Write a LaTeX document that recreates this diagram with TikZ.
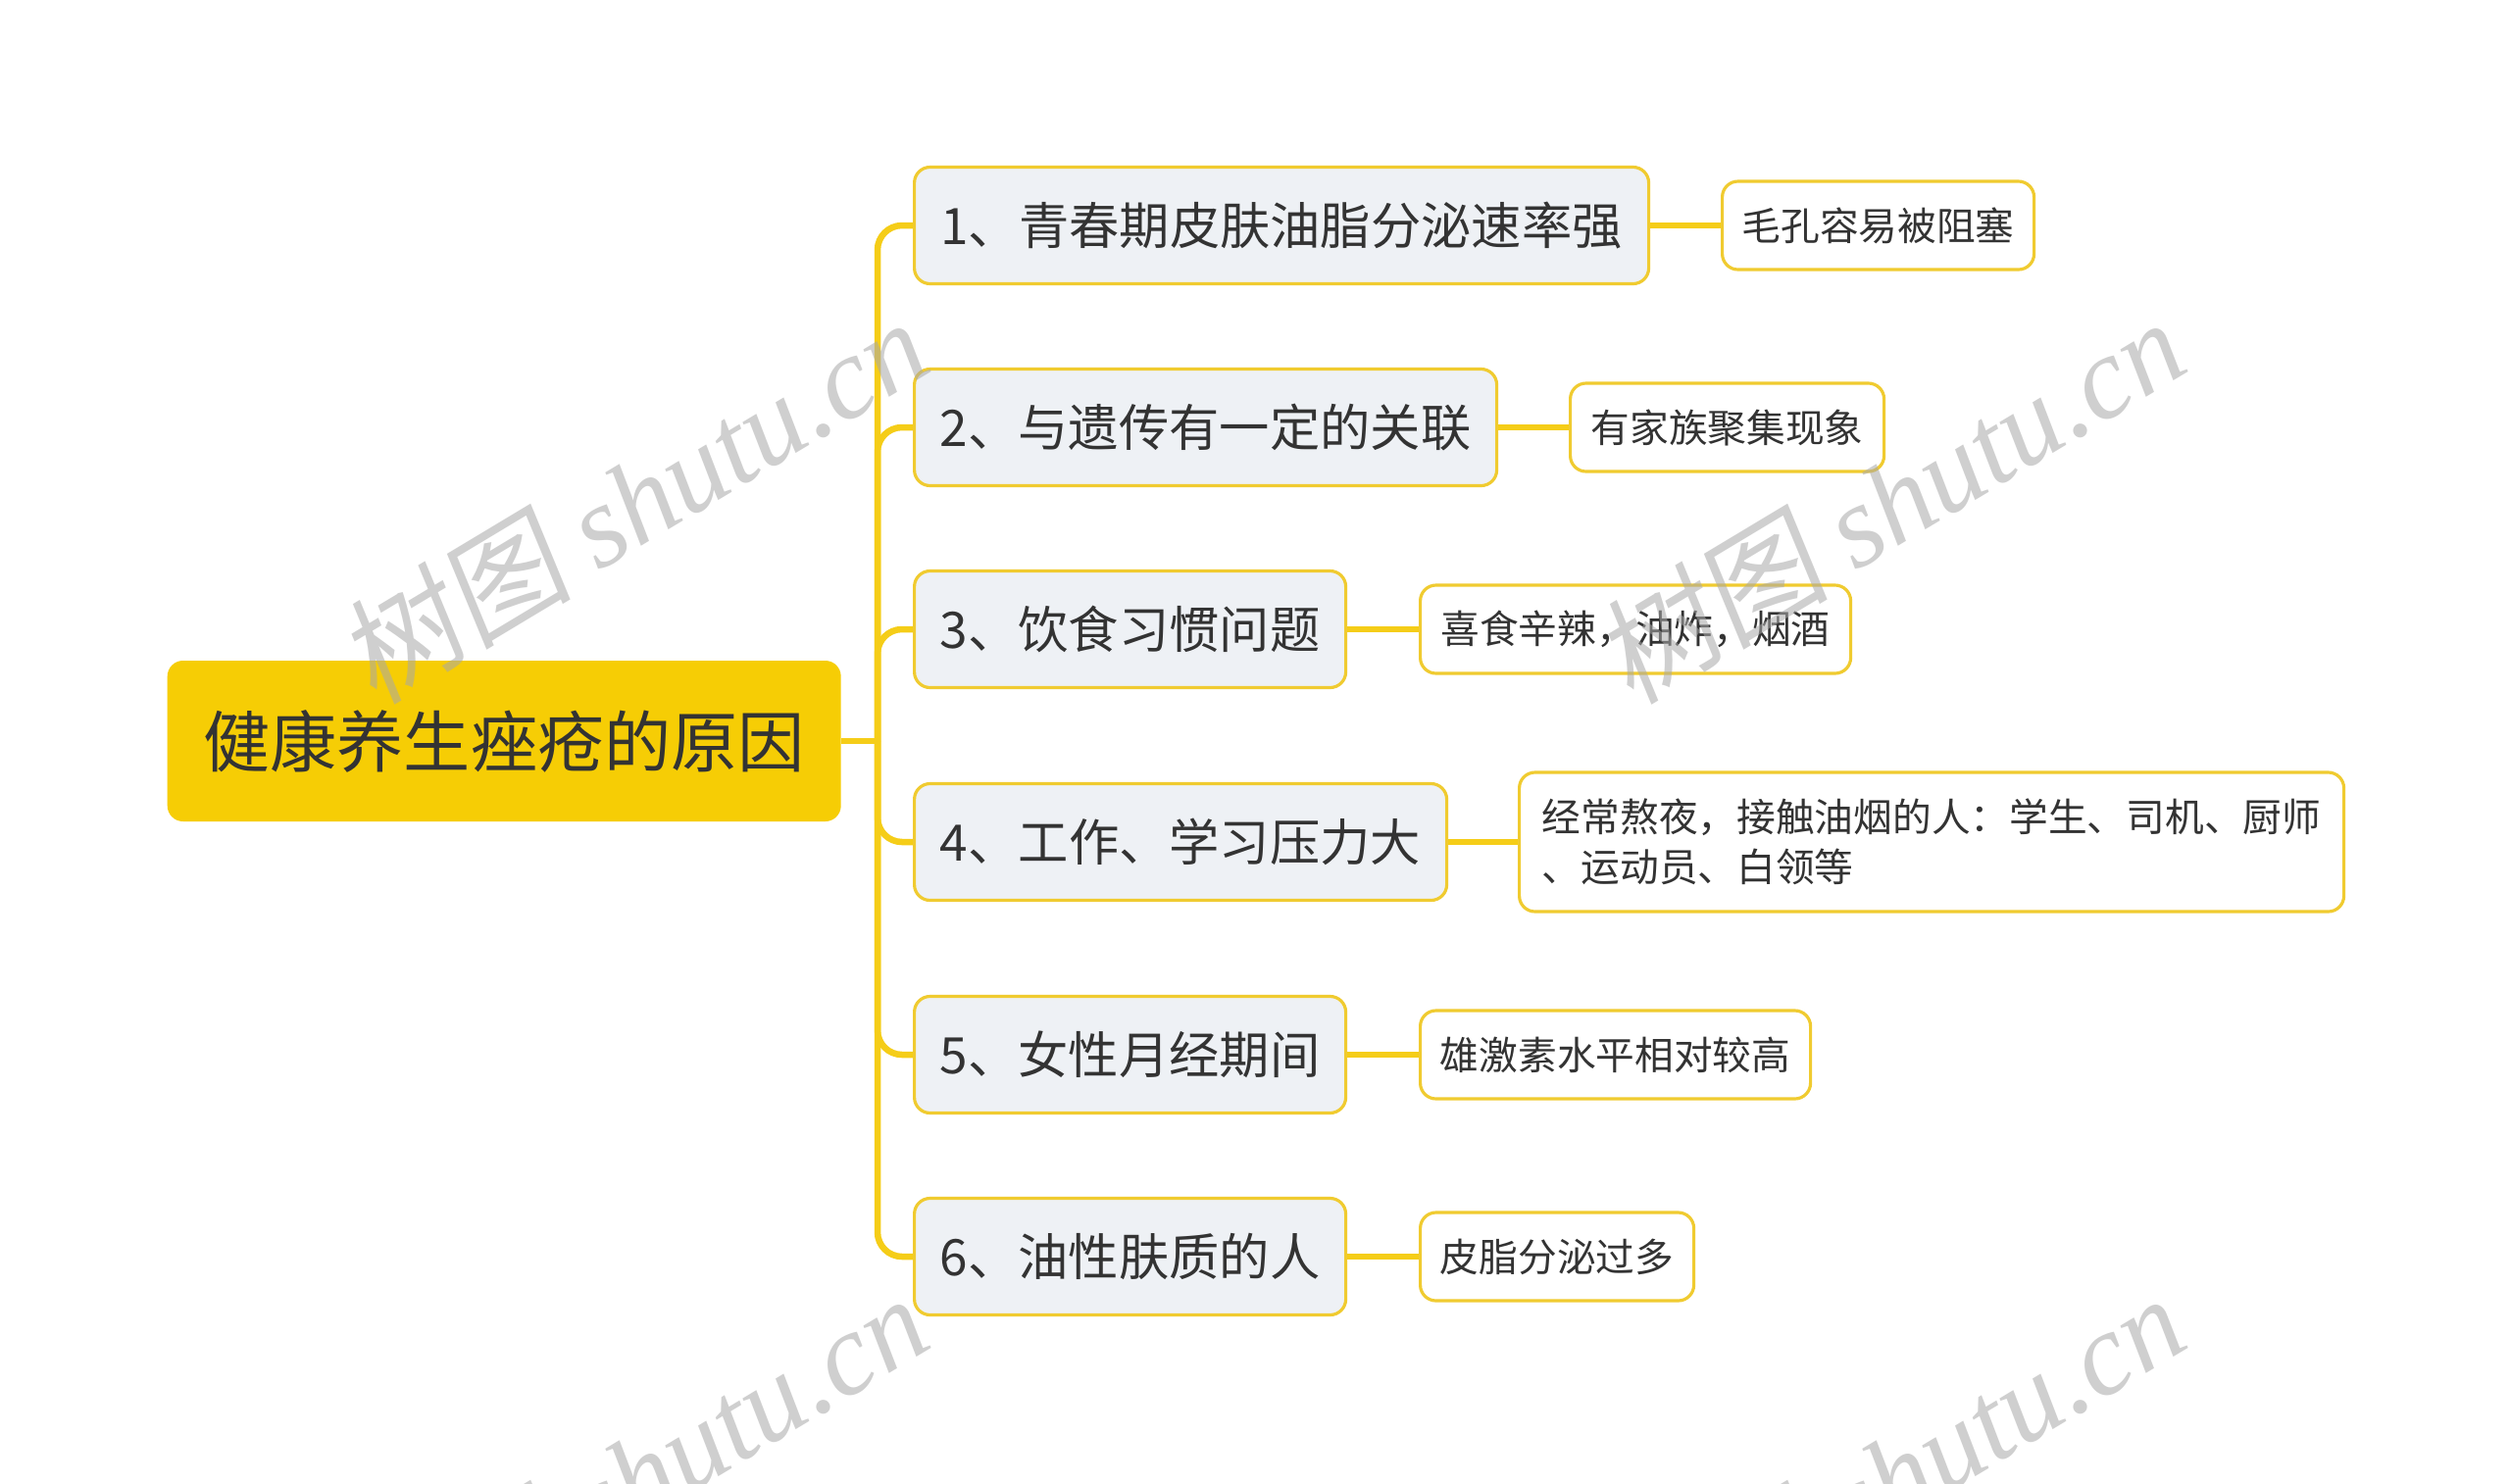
\documentclass[tikz,border=0pt]{standalone}
\usepackage{fontspec}
\setmainfont{Noto Sans CJK SC}
\newfontfamily\wmlatin{Liberation Serif}
\newfontfamily\wmcjk[FakeSlant=0.15]{Noto Sans CJK SC}
\definecolor{rootfill}{HTML}{F6CD05}
\definecolor{lineyellow}{HTML}{F5CD18}
\definecolor{boxborder}{HTML}{F0CB30}
\definecolor{branchfill}{HTML}{EEF1F5}
\definecolor{txt}{HTML}{333333}
\definecolor{wmgray}{HTML}{A8A8A8}
\begin{document}
\begin{tikzpicture}[x=0.1mm,y=-0.1mm,
  rootbox/.style={fill=rootfill, rounded corners=1.6mm, minimum height=16.4mm, minimum width=68.7mm, inner sep=0pt, text=txt, font=\fontsize{19.4pt}{23pt}\selectfont, anchor=west},
  branchbox/.style={fill=branchfill, draw=boxborder, line width=0.9pt, rounded corners=1.6mm, minimum height=11.9mm, inner sep=0pt, text=txt, font=\fontsize{14.6pt}{18pt}\selectfont, anchor=west},
  leafbox/.style={fill=white, draw=boxborder, line width=0.9pt, rounded corners=1.6mm, minimum height=9mm, inner sep=0pt, text=txt, font=\fontsize{11.3pt}{14.5pt}\selectfont, anchor=west},
  conn/.style={draw=lineyellow, line width=1.85pt},
  wmark/.style={text=wmgray, opacity=0.55, rotate=31, inner sep=0pt}
]
\useasboundingbox (0,0) rectangle (2560,1513);
\fill[white] (0,0) rectangle (2560,1513);

% nodes
\node[rootbox] (root) at (170,756) {健康养生痤疮的原因};

\node[branchbox, minimum width=74.9mm] (b1) at (931,230) {1、青春期皮肤油脂分泌速率强};
\node[branchbox, minimum width=59.4mm] (b2) at (931,436) {2、与遗传有一定的关联};
\node[branchbox, minimum width=44.0mm] (b3) at (931,642) {3、饮食习惯问题};
\node[branchbox, minimum width=54.3mm] (b4) at (931,859) {4、工作、学习压力大};
\node[branchbox, minimum width=44.0mm] (b5) at (931,1076) {5、女性月经期间};
\node[branchbox, minimum width=44.0mm] (b6) at (931,1282) {6、油性肤质的人};

\node[leafbox, minimum width=31.8mm] (l1) at (1755,230) {毛孔容易被阻塞};
\node[leafbox, minimum width=32.0mm] (l2) at (1600,436) {有家族聚集现象};
\node[leafbox, minimum width=43.9mm] (l3) at (1447,642) {喜食辛辣，油炸，烟酒};
\node[leafbox, minimum width=84.1mm, minimum height=14.2mm, align=left] (l4) at (1548,859) {经常熬夜，接触油烟的人：学生、司机、厨师\\、运动员、白领等};
\node[leafbox, minimum width=39.8mm] (l5) at (1447,1076) {雄激素水平相对较高};
\node[leafbox, minimum width=27.9mm] (l6) at (1447,1282) {皮脂分泌过多};

% connectors
\coordinate (j) at (895,756);
\draw[conn] (root.east) -- (j);
\foreach \b in {b1,b2,b3,b4,b5,b6}
  \draw[conn, rounded corners=2.5mm] (j) |- (\b.west);
\draw[conn] (b1.east) -- (l1.west);
\draw[conn] (b2.east) -- (l2.west);
\draw[conn] (b3.east) -- (l3.west);
\draw[conn] (b4.east) -- (l4.west);
\draw[conn] (b5.east) -- (l5.west);
\draw[conn] (b6.east) -- (l6.west);

% watermarks
\begin{scope}[font=\fontsize{34pt}{40pt}\selectfont]
\node[wmark] (w1) at (645,510) {{\wmcjk 树图} {\wmlatin\itshape shutu.cn}};
\node[wmark] (w2) at (1927,510) {{\wmcjk 树图} {\wmlatin\itshape shutu.cn}};
\node[wmark] (w3) at (645,1506) {{\wmcjk 树图} {\wmlatin\itshape shutu.cn}};
\node[wmark] (w4) at (1927,1506) {{\wmcjk 树图} {\wmlatin\itshape shutu.cn}};
\end{scope}
\end{tikzpicture}
\end{document}
